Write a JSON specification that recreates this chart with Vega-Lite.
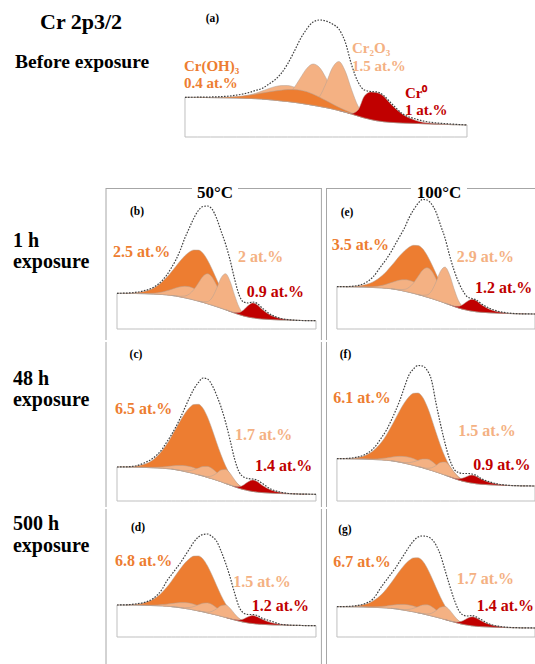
{
  "$schema": "https://vega.github.io/schema/vega-lite/v6.json",
  "padding": 0,
  "background": "#ffffff",
  "spacing": 0,
  "config": {"view": {"stroke": null}, "axis": {"grid": false}},
  "datasets": {
    "one": [{"k": 1}],
    "a": [
      {"E":582,"bg":39.7,"d":39.7,"env":39.7},
      {"E":581.5,"bg":39.6,"d":39.7,"c3":39.6,"env":39.8},
      {"E":581,"bg":39.4,"d":39.6,"c3":39.4,"env":40.0},
      {"E":580.5,"bg":39.2,"d":39.8,"c3":39.4,"env":40.5},
      {"E":580,"bg":38.9,"d":40.4,"c3":39.9,"env":41.8},
      {"E":579.5,"bg":38.6,"d":41.8,"c3":42.0,"env":44.5},
      {"E":579.25,"bg":38.3,"d":42.8,"c3":43.7,"env":46.5},
      {"E":579,"bg":37.9,"d":43.9,"c2":37.9,"c3":45.9,"env":48.5},
      {"E":578.75,"bg":37.4,"d":45.0,"c2":37.6,"c3":48.3,"env":52.5},
      {"E":578.5,"bg":36.8,"d":46.0,"c2":37.6,"c3":50.3,"env":57},
      {"E":578.25,"bg":36.1,"d":46.8,"c2":38.6,"c3":51.4,"env":63.5},
      {"E":578,"bg":35.5,"d":47.4,"c2":42.2,"c3":51.5,"env":73},
      {"E":577.75,"bg":34.7,"d":47.4,"c2":49.1,"c3":50.0,"env":85},
      {"E":577.5,"bg":33.8,"d":46.8,"c1":33.8,"c2":59.0,"c3":47.3,"env":98},
      {"E":577.25,"bg":32.8,"d":45.3,"c1":33.4,"c2":68.6,"c3":43.7,"env":108},
      {"E":577,"bg":31.7,"d":42.8,"c1":34.6,"c2":73.0,"c3":39.7,"env":115},
      {"E":576.75,"bg":30.6,"d":39.8,"c1":40.5,"c2":69.4,"c3":36.0,"env":117},
      {"E":576.5,"bg":29.4,"d":36.4,"c1":53.6,"c2":59.1,"c3":32.8,"env":116},
      {"E":576.25,"bg":28.1,"d":33.1,"c1":69.2,"c2":46.6,"c3":30.0,"env":113},
      {"E":576,"bg":26.5,"d":29.7,"c1":75.5,"c2":35.8,"c3":27.5,"r":26.5,"env":108},
      {"E":575.75,"bg":24.8,"d":26.8,"c1":65.9,"c2":28.7,"c3":25.3,"r":24.8,"env":95},
      {"E":575.5,"bg":23.0,"d":24.1,"c1":47.2,"c2":24.3,"c3":23.2,"r":23.5,"env":72},
      {"E":575.25,"bg":21.0,"d":21.6,"c1":30.9,"c2":21.3,"c3":21.1,"r":27.0,"env":55},
      {"E":575,"bg":19.1,"d":19.4,"c1":22.0,"c2":19.1,"c3":19.1,"r":41.1,"env":47},
      {"E":574.75,"bg":17.5,"d":17.6,"c1":18.1,"r":45.0,"env":45.5},
      {"E":574.5,"bg":16.2,"d":16.2,"c1":16.2,"r":44.2,"env":45},
      {"E":574.25,"bg":15.3,"d":15.3,"r":40.8,"env":41.5},
      {"E":574,"bg":14.7,"d":14.7,"r":33.7,"env":35},
      {"E":573.5,"bg":14.0,"d":14.0,"r":22.5,"env":23},
      {"E":573,"bg":13.6,"d":13.6,"r":16.6,"env":18},
      {"E":572.5,"bg":13.1,"d":13.1,"r":13.9,"env":15},
      {"E":572,"bg":12.7,"d":12.7,"r":12.9,"env":13.7},
      {"E":571.5,"bg":12.3,"d":12.3,"r":12.3,"env":12.8},
      {"E":571,"bg":12.0,"d":12.0,"env":12.0}
    ],
    "b": [
      {"E":582,"bg":35.7,"d":35.8,"env":35.7},
      {"E":581.5,"bg":35.6,"d":35.8,"c3":35.6,"env":35.9},
      {"E":581,"bg":35.5,"d":36.2,"c3":35.5,"env":36.6},
      {"E":580.5,"bg":35.3,"d":37.5,"c3":35.5,"env":38.3},
      {"E":580,"bg":34.9,"d":40.7,"c3":35.7,"env":41.5},
      {"E":579.5,"bg":34.5,"d":47.2,"c3":37.0,"env":48.5},
      {"E":579.25,"bg":34.1,"d":51.7,"c3":38.2,"env":54},
      {"E":579,"bg":33.6,"d":57.0,"c2":33.6,"c3":39.6,"env":61},
      {"E":578.75,"bg":33.0,"d":62.6,"c2":33.2,"c3":41.1,"env":69},
      {"E":578.5,"bg":32.1,"d":68.2,"c2":32.7,"c3":42.2,"env":79},
      {"E":578.25,"bg":31.2,"d":73.2,"c2":33.0,"c3":42.7,"env":91},
      {"E":578,"bg":30.2,"d":77.0,"c2":35.0,"c3":42.2,"env":101},
      {"E":577.75,"bg":29.1,"d":79.0,"c2":39.5,"c3":40.6,"env":111},
      {"E":577.5,"bg":27.9,"d":78.9,"c1":27.9,"c2":46.1,"c3":38.0,"env":118.5},
      {"E":577.25,"bg":26.7,"d":75.8,"c1":27.1,"c2":52.6,"c3":34.8,"env":122.5},
      {"E":577,"bg":25.3,"d":69.0,"c1":27.4,"c2":55.2,"c3":31.3,"env":123},
      {"E":576.75,"bg":23.9,"d":60.0,"c1":31.2,"c2":52.0,"c3":28.0,"env":120},
      {"E":576.5,"bg":22.4,"d":49.9,"c1":40.2,"c2":43.9,"c3":24.9,"env":111},
      {"E":576.25,"bg":20.9,"d":40.3,"c1":51.1,"c2":34.3,"c3":22.3,"env":98},
      {"E":576,"bg":19.3,"d":32.0,"c1":55.3,"c2":26.0,"c3":20.1,"r":19.3,"env":85},
      {"E":575.75,"bg":17.6,"d":25.3,"c1":47.8,"c2":20.4,"c3":18.0,"r":17.7,"env":69},
      {"E":575.5,"bg":16.0,"d":20.3,"c1":33.8,"c2":16.9,"c3":16.2,"r":16.5,"env":50},
      {"E":575.25,"bg":14.5,"d":16.7,"c1":21.8,"c2":14.7,"c3":14.6,"r":16.6,"env":34},
      {"E":575,"bg":13.1,"d":14.2,"c1":15.2,"c2":13.1,"c3":13.1,"r":19.1,"env":27},
      {"E":574.75,"bg":12.0,"d":12.5,"c1":12.4,"r":23.4,"env":26},
      {"E":574.5,"bg":11.2,"d":11.4,"c1":11.2,"r":26.1,"env":27},
      {"E":574.25,"bg":10.5,"d":10.5,"r":24.2,"env":25.5},
      {"E":574,"bg":10.1,"d":10.1,"r":19.9,"env":21.5},
      {"E":573.5,"bg":9.5,"d":9.5,"r":13.7,"env":14.5},
      {"E":573,"bg":9.1,"d":9.1,"r":10.7,"env":10.8},
      {"E":572.5,"bg":8.9,"d":8.9,"r":9.2,"env":9.3},
      {"E":572,"bg":8.6,"d":8.6,"r":8.6,"env":8.6},
      {"E":571.5,"bg":8.4,"d":8.4,"r":8.4,"env":8.4},
      {"E":571,"bg":8.3,"d":8.3,"env":8.3}
    ],
    "e": [
      {"E":582,"bg":42.3,"d":42.3,"env":42.3},
      {"E":581.5,"bg":42.2,"d":42.4,"c3":42.2,"env":42.4},
      {"E":581,"bg":42.1,"d":42.8,"c3":42.1,"env":43},
      {"E":580.5,"bg":41.9,"d":44.1,"c3":42.1,"env":45.5},
      {"E":580,"bg":41.5,"d":47.1,"c3":42.3,"env":52},
      {"E":579.5,"bg":41.1,"d":53.3,"c3":43.6,"env":64},
      {"E":579.25,"bg":40.7,"d":57.6,"c3":44.8,"env":70},
      {"E":579,"bg":40.3,"d":62.7,"c2":40.3,"c3":46.3,"env":77},
      {"E":578.75,"bg":39.6,"d":68.1,"c2":39.8,"c3":47.7,"env":85},
      {"E":578.5,"bg":38.8,"d":73.4,"c2":39.4,"c3":48.9,"env":93},
      {"E":578.25,"bg":37.8,"d":78.1,"c2":39.6,"c3":49.3,"env":101},
      {"E":578,"bg":36.8,"d":81.7,"c2":41.6,"c3":48.8,"env":111},
      {"E":577.75,"bg":35.7,"d":83.7,"c2":45.9,"c3":47.2,"env":119},
      {"E":577.5,"bg":34.5,"d":83.5,"c1":34.5,"c2":52.4,"c3":44.6,"env":125.5},
      {"E":577.25,"bg":33.3,"d":80.4,"c1":33.7,"c2":58.7,"c3":41.4,"env":129.5},
      {"E":577,"bg":31.9,"d":73.9,"c1":34.0,"c2":61.3,"c3":37.9,"env":129},
      {"E":576.75,"bg":30.6,"d":65.2,"c1":37.9,"c2":58.2,"c3":34.7,"env":125},
      {"E":576.5,"bg":29.1,"d":55.5,"c1":46.9,"c2":50.2,"c3":31.6,"env":117},
      {"E":576.25,"bg":27.6,"d":46.3,"c1":57.8,"c2":40.8,"c3":29.0,"env":104},
      {"E":576,"bg":25.9,"d":38.1,"c1":61.9,"c2":32.5,"c3":26.7,"r":25.9,"env":91},
      {"E":575.75,"bg":24.3,"d":31.7,"c1":54.5,"c2":27.0,"c3":24.7,"r":24.4,"env":74},
      {"E":575.5,"bg":22.6,"d":26.8,"c1":40.4,"c2":23.5,"c3":22.8,"r":23.0,"env":59},
      {"E":575.25,"bg":21.1,"d":23.3,"c1":28.4,"c2":21.3,"c3":21.2,"r":22.8,"env":47},
      {"E":575,"bg":19.8,"d":20.8,"c1":21.9,"c2":19.8,"c3":19.8,"r":24.6,"env":38},
      {"E":574.75,"bg":18.7,"d":19.1,"c1":19.1,"r":27.8,"env":32},
      {"E":574.5,"bg":17.9,"d":18.1,"c1":17.9,"r":29.8,"env":30.5},
      {"E":574.25,"bg":17.2,"d":17.2,"r":28.2,"env":29},
      {"E":574,"bg":16.8,"d":16.8,"r":24.6,"env":25.5},
      {"E":573.5,"bg":16.2,"d":16.2,"r":19.6,"env":20.5},
      {"E":573,"bg":15.8,"d":15.8,"r":17.1,"env":17.5},
      {"E":572.5,"bg":15.5,"d":15.5,"r":15.8,"env":16},
      {"E":572,"bg":15.3,"d":15.3,"r":15.3,"env":15.3},
      {"E":571.5,"bg":15.1,"d":15.1,"r":15.1,"env":15.1},
      {"E":571,"bg":15.0,"d":15.0,"env":15.0}
    ],
    "c": [
      {"E":582,"bg":34.0,"d":34.1,"env":34},
      {"E":581.5,"bg":33.9,"d":34.2,"c3":33.9,"env":34.2},
      {"E":581,"bg":33.8,"d":34.8,"c3":33.8,"env":35},
      {"E":580.5,"bg":33.6,"d":36.7,"c3":33.7,"env":38},
      {"E":580,"bg":33.2,"d":41.2,"c3":33.6,"env":43},
      {"E":579.5,"bg":32.8,"d":50.4,"c3":34.1,"env":52},
      {"E":579.25,"bg":32.4,"d":56.7,"c3":34.4,"env":59},
      {"E":579,"bg":32.0,"d":64.3,"c2":32.0,"c3":35.0,"env":66},
      {"E":578.75,"bg":31.3,"d":72.3,"c2":31.4,"c3":35.4,"env":74},
      {"E":578.5,"bg":30.5,"d":80.3,"c2":30.7,"c3":35.6,"env":83},
      {"E":578.25,"bg":29.5,"d":87.5,"c2":30.2,"c3":35.3,"env":93},
      {"E":578,"bg":28.5,"d":93.2,"c2":30.3,"c3":34.5,"env":103},
      {"E":577.75,"bg":27.5,"d":96.5,"c2":31.3,"c3":33.3,"env":112},
      {"E":577.5,"bg":26.2,"d":96.7,"c1":26.2,"c2":32.9,"c3":31.3,"env":118.5},
      {"E":577.25,"bg":25.0,"d":92.8,"c1":25.2,"c2":34.5,"c3":29.1,"env":123},
      {"E":577,"bg":23.6,"d":84.0,"c1":24.4,"c2":34.6,"c3":26.6,"env":122},
      {"E":576.75,"bg":22.3,"d":72.1,"c1":25.1,"c2":32.6,"c3":24.3,"env":116},
      {"E":576.5,"bg":20.8,"d":58.8,"c1":27.7,"c2":28.7,"c3":22.1,"env":106},
      {"E":576.25,"bg":19.3,"d":46.2,"c1":31.0,"c2":24.2,"c3":20.0,"env":94},
      {"E":576,"bg":17.6,"d":35.2,"c1":31.6,"c2":20.1,"c3":18.0,"r":17.6,"env":79},
      {"E":575.75,"bg":16.0,"d":26.7,"c1":27.7,"c2":17.0,"c3":16.2,"r":16.1,"env":61},
      {"E":575.5,"bg":14.3,"d":20.3,"c1":21.2,"c2":14.6,"c3":14.4,"r":14.7,"env":42},
      {"E":575.25,"bg":12.8,"d":15.9,"c1":15.6,"c2":12.9,"c3":12.8,"r":14.4,"env":29},
      {"E":575,"bg":11.5,"d":13.0,"c1":12.3,"c2":11.5,"c3":11.5,"r":16.1,"env":24},
      {"E":574.75,"bg":10.4,"d":11.0,"c1":10.6,"r":19.2,"env":22.5},
      {"E":574.5,"bg":9.6,"d":9.9,"c1":9.6,"r":21.0,"env":22},
      {"E":574.25,"bg":8.9,"d":8.9,"r":19.4,"env":21},
      {"E":574,"bg":8.5,"d":8.5,"r":16.0,"env":18},
      {"E":573.5,"bg":7.9,"d":7.9,"r":11.1,"env":12},
      {"E":573,"bg":7.5,"d":7.5,"r":8.7,"env":9},
      {"E":572.5,"bg":7.3,"d":7.3,"r":7.5,"env":7.5},
      {"E":572,"bg":7.0,"d":7.0,"r":7.0,"env":7.0},
      {"E":571.5,"bg":6.8,"d":6.8,"r":6.8,"env":6.8},
      {"E":571,"bg":6.7,"d":6.7,"env":6.7}
    ],
    "f": [
      {"E":582,"bg":42.3,"d":42.4,"env":42.3},
      {"E":581.5,"bg":42.2,"d":42.5,"c3":42.2,"env":42.5},
      {"E":581,"bg":42.1,"d":43.1,"c3":42.1,"env":43.5},
      {"E":580.5,"bg":41.9,"d":45.1,"c3":42.0,"env":46},
      {"E":580,"bg":41.5,"d":49.9,"c3":41.9,"env":52},
      {"E":579.5,"bg":41.1,"d":59.4,"c3":42.6,"env":64},
      {"E":579.25,"bg":40.7,"d":66.1,"c3":43.1,"env":71},
      {"E":579,"bg":40.3,"d":74.0,"c2":40.3,"c3":43.8,"env":80},
      {"E":578.75,"bg":39.6,"d":82.3,"c2":39.7,"c3":44.4,"env":90},
      {"E":578.5,"bg":38.8,"d":90.8,"c2":39.0,"c3":44.7,"env":101},
      {"E":578.25,"bg":37.8,"d":98.3,"c2":38.4,"c3":44.5,"env":114},
      {"E":578,"bg":36.8,"d":104.2,"c2":38.4,"c3":43.8,"env":126},
      {"E":577.75,"bg":35.7,"d":107.7,"c2":39.2,"c3":42.4,"env":132},
      {"E":577.5,"bg":34.5,"d":108.0,"c1":34.5,"c2":40.6,"c3":40.4,"env":135.5},
      {"E":577.25,"bg":33.3,"d":104.0,"c1":33.5,"c2":41.9,"c3":38.1,"env":135},
      {"E":577,"bg":31.9,"d":94.9,"c1":32.7,"c2":41.9,"c3":35.4,"env":131},
      {"E":576.75,"bg":30.6,"d":82.6,"c1":33.2,"c2":40.0,"c3":33.0,"env":121},
      {"E":576.5,"bg":29.1,"d":68.7,"c1":35.5,"c2":36.3,"c3":30.6,"env":98},
      {"E":576.25,"bg":27.6,"d":55.6,"c1":38.5,"c2":32.1,"c3":28.4,"env":77},
      {"E":576,"bg":25.9,"d":44.2,"c1":38.9,"c2":28.1,"c3":26.3,"r":25.9,"env":58},
      {"E":575.75,"bg":24.3,"d":35.4,"c1":35.2,"c2":25.2,"c3":24.5,"r":24.4,"env":42},
      {"E":575.5,"bg":22.6,"d":28.9,"c1":29.0,"c2":22.9,"c3":22.7,"r":22.9,"env":32},
      {"E":575.25,"bg":21.1,"d":24.3,"c1":23.7,"c2":21.2,"c3":21.1,"r":22.2,"env":28.5},
      {"E":575,"bg":19.8,"d":21.3,"c1":20.6,"c2":19.8,"c3":19.8,"r":23.0,"env":27.5},
      {"E":574.75,"bg":18.7,"d":19.4,"c1":18.9,"r":24.8,"env":27.5},
      {"E":574.5,"bg":17.9,"d":18.2,"c1":17.9,"r":25.9,"env":27},
      {"E":574.25,"bg":17.2,"d":17.2,"r":24.5,"env":25.5},
      {"E":574,"bg":16.8,"d":16.8,"r":22.0,"env":22.5},
      {"E":573.5,"bg":16.2,"d":16.2,"r":18.5,"env":19},
      {"E":573,"bg":15.8,"d":15.8,"r":16.6,"env":16.8},
      {"E":572.5,"bg":15.5,"d":15.5,"r":15.7,"env":15.7},
      {"E":572,"bg":15.3,"d":15.3,"r":15.3,"env":15.3},
      {"E":571.5,"bg":15.1,"d":15.1,"r":15.1,"env":15.1},
      {"E":571,"bg":15.0,"d":15.0,"env":15.0}
    ],
    "d": [
      {"E":582,"bg":32.0,"d":32.1,"env":32},
      {"E":581.5,"bg":31.9,"d":32.1,"c3":31.9,"env":32.2},
      {"E":581,"bg":31.9,"d":32.7,"c3":31.9,"env":33},
      {"E":580.5,"bg":31.7,"d":34.1,"c3":31.8,"env":34.5},
      {"E":580,"bg":31.4,"d":37.7,"c3":31.8,"env":38.5},
      {"E":579.5,"bg":31.1,"d":44.8,"c3":32.4,"env":48},
      {"E":579.25,"bg":30.8,"d":49.8,"c3":32.8,"env":56},
      {"E":579,"bg":30.4,"d":55.6,"c2":30.4,"c3":33.4,"env":62},
      {"E":578.75,"bg":29.9,"d":61.9,"c2":30.0,"c3":34.0,"env":68},
      {"E":578.5,"bg":29.3,"d":68.2,"c2":29.5,"c3":34.4,"env":74},
      {"E":578.25,"bg":28.6,"d":73.9,"c2":29.2,"c3":34.4,"env":81},
      {"E":578,"bg":27.9,"d":78.3,"c2":29.5,"c3":33.9,"env":88},
      {"E":577.75,"bg":27.0,"d":80.9,"c2":30.5,"c3":32.8,"env":95},
      {"E":577.5,"bg":26.1,"d":81.1,"c1":26.1,"c2":32.2,"c3":31.2,"env":100},
      {"E":577.25,"bg":25.2,"d":78.1,"c1":25.4,"c2":33.8,"c3":29.3,"env":102.5},
      {"E":577,"bg":24.1,"d":71.2,"c1":24.8,"c2":34.1,"c3":27.1,"env":103},
      {"E":576.75,"bg":23.1,"d":62.0,"c1":25.6,"c2":32.5,"c3":25.1,"env":100.5},
      {"E":576.5,"bg":22.0,"d":51.7,"c1":28.2,"c2":29.2,"c3":23.3,"env":96},
      {"E":576.25,"bg":20.8,"d":41.8,"c1":31.3,"c2":25.3,"c3":21.5,"env":86},
      {"E":576,"bg":19.6,"d":33.3,"c1":32.1,"c2":21.8,"c3":20.0,"r":19.6,"env":74},
      {"E":575.75,"bg":18.3,"d":26.6,"c1":28.8,"c2":19.2,"c3":18.5,"r":18.4,"env":60},
      {"E":575.5,"bg":17.1,"d":21.8,"c1":23.3,"c2":17.4,"c3":17.2,"r":17.4,"env":44},
      {"E":575.25,"bg":16.0,"d":18.4,"c1":18.5,"c2":16.1,"c3":16.0,"r":17.1,"env":30},
      {"E":575,"bg":14.9,"d":16.1,"c1":15.6,"c2":14.9,"c3":14.9,"r":18.1,"env":24},
      {"E":574.75,"bg":14.1,"d":14.6,"c1":14.3,"r":20.2,"env":22.5},
      {"E":574.5,"bg":13.5,"d":13.7,"c1":13.5,"r":21.5,"env":22.5},
      {"E":574.25,"bg":13.0,"d":13.0,"r":20.3,"env":21.5},
      {"E":574,"bg":12.7,"d":12.7,"r":17.9,"env":19},
      {"E":573.5,"bg":12.2,"d":12.2,"r":14.5,"env":16},
      {"E":573,"bg":11.9,"d":11.9,"r":12.7,"env":13},
      {"E":572.5,"bg":11.7,"d":11.7,"r":11.9,"env":11.9},
      {"E":572,"bg":11.6,"d":11.6,"r":11.6,"env":11.6},
      {"E":571.5,"bg":11.4,"d":11.4,"r":11.4,"env":11.4},
      {"E":571,"bg":11.3,"d":11.3,"env":11.3}
    ],
    "g": [
      {"E":582,"bg":30.3,"d":30.4,"env":30.3},
      {"E":581.5,"bg":30.2,"d":30.4,"c3":30.2,"env":30.5},
      {"E":581,"bg":30.2,"d":31.0,"c3":30.2,"env":31.2},
      {"E":580.5,"bg":30.0,"d":32.4,"c3":30.1,"env":33},
      {"E":580,"bg":29.7,"d":36.0,"c3":30.1,"env":38},
      {"E":579.5,"bg":29.3,"d":43.0,"c3":30.6,"env":51},
      {"E":579.25,"bg":29.0,"d":48.0,"c3":31.0,"env":57},
      {"E":579,"bg":28.7,"d":53.9,"c2":28.7,"c3":31.7,"env":63},
      {"E":578.75,"bg":28.2,"d":60.2,"c2":28.3,"c3":32.3,"env":69},
      {"E":578.5,"bg":27.5,"d":66.4,"c2":27.7,"c3":32.6,"env":76},
      {"E":578.25,"bg":26.8,"d":72.1,"c2":27.4,"c3":32.6,"env":83},
      {"E":578,"bg":26.0,"d":76.4,"c2":27.6,"c3":32.0,"env":90},
      {"E":577.75,"bg":25.2,"d":79.1,"c2":28.7,"c3":31.0,"env":96},
      {"E":577.5,"bg":24.2,"d":79.2,"c1":24.2,"c2":30.3,"c3":29.3,"env":100},
      {"E":577.25,"bg":23.3,"d":76.2,"c1":23.5,"c2":31.9,"c3":27.4,"env":101},
      {"E":577,"bg":22.2,"d":69.3,"c1":23.0,"c2":32.2,"c3":25.2,"env":100.5},
      {"E":576.75,"bg":21.1,"d":60.0,"c1":23.7,"c2":30.5,"c3":23.1,"env":98},
      {"E":576.5,"bg":20.0,"d":49.7,"c1":26.4,"c2":27.2,"c3":21.3,"env":92},
      {"E":576.25,"bg":18.8,"d":39.8,"c1":29.7,"c2":23.3,"c3":19.5,"env":82},
      {"E":576,"bg":17.5,"d":31.2,"c1":30.5,"c2":19.7,"c3":17.9,"r":17.5,"env":67},
      {"E":575.75,"bg":16.2,"d":24.5,"c1":27.1,"c2":17.1,"c3":16.4,"r":16.3,"env":52},
      {"E":575.5,"bg":15.0,"d":19.7,"c1":21.4,"c2":15.3,"c3":15.1,"r":15.3,"env":38},
      {"E":575.25,"bg":13.8,"d":16.2,"c1":16.4,"c2":13.9,"c3":13.8,"r":15.1,"env":27},
      {"E":575,"bg":12.7,"d":13.9,"c1":13.5,"c2":12.7,"c3":12.7,"r":16.3,"env":22},
      {"E":574.75,"bg":11.9,"d":12.4,"c1":12.1,"r":18.8,"env":21},
      {"E":574.5,"bg":11.2,"d":11.4,"c1":11.2,"r":20.2,"env":21.5},
      {"E":574.25,"bg":10.7,"d":10.7,"r":18.9,"env":20},
      {"E":574,"bg":10.4,"d":10.4,"r":16.3,"env":17.5},
      {"E":573.5,"bg":10.0,"d":10.0,"r":12.5,"env":12.8},
      {"E":573,"bg":9.6,"d":9.6,"r":10.5,"env":10.7},
      {"E":572.5,"bg":9.4,"d":9.4,"r":9.6,"env":9.7},
      {"E":572,"bg":9.3,"d":9.3,"r":9.3,"env":9.3},
      {"E":571.5,"bg":9.1,"d":9.1,"r":9.1,"env":9.1},
      {"E":571,"bg":9.0,"d":9.0,"env":9.0}
    ]
  },
  "vconcat": [
    {
      "width": 535, "height": 183,
      "layer": [
        {"data": {"name": "a"}, "mark": {"type": "area", "fill": "#ffffff", "stroke": "#bfbfbf", "strokeWidth": 1, "interpolate": "monotone"}, "encoding": {
          "x": {"field": "E", "type": "quantitative", "scale": {"domain": [568.347, 589.216], "reverse": true, "nice": false, "zero": false},
            "axis": {"values": [582, 579, 576, 573], "domain": false, "tickSize": 3, "tickColor": "#bfbfbf", "labelFont": "Liberation Serif", "labelFontSize": 8, "labelColor": "#7f7f7f", "labelPadding": 4, "offset": -46,
              "title": "Binding energy (eV)", "titleFont": "Liberation Serif", "titleFontSize": 12, "titleFontWeight": "bold", "titleColor": "#000000", "titleX": 326, "titleY": 24, "titleBaseline": "middle", "titleAlign": "center"}},
          "y": {"field": "bg", "type": "quantitative", "scale": {"domain": [-46, 137], "nice": false, "zero": false}, "axis": null}, "y2": {"datum": 0}}},
        {"data": {"name": "a"}, "mark": {"type": "area", "fill": "#F4B183", "stroke": "#b3a094", "strokeWidth": 0.5, "interpolate": "monotone"}, "encoding": {"x": {"field": "E", "type": "quantitative", "scale": {"domain": [568.347, 589.216], "reverse": true, "nice": false, "zero": false}, "axis": null}, "y": {"field": "c3", "type": "quantitative", "scale": {"domain": [-46, 137], "nice": false, "zero": false}, "axis": null}, "y2": {"field": "bg"}}},
        {"data": {"name": "a"}, "mark": {"type": "area", "fill": "#F4B183", "stroke": "#b3a094", "strokeWidth": 0.5, "interpolate": "monotone"}, "encoding": {"x": {"field": "E", "type": "quantitative", "scale": {"domain": [568.347, 589.216], "reverse": true, "nice": false, "zero": false}, "axis": null}, "y": {"field": "c2", "type": "quantitative", "scale": {"domain": [-46, 137], "nice": false, "zero": false}, "axis": null}, "y2": {"field": "bg"}}},
        {"data": {"name": "a"}, "mark": {"type": "area", "fill": "#F4B183", "stroke": "#b3a094", "strokeWidth": 0.5, "interpolate": "monotone"}, "encoding": {"x": {"field": "E", "type": "quantitative", "scale": {"domain": [568.347, 589.216], "reverse": true, "nice": false, "zero": false}, "axis": null}, "y": {"field": "c1", "type": "quantitative", "scale": {"domain": [-46, 137], "nice": false, "zero": false}, "axis": null}, "y2": {"field": "bg"}}},
        {"data": {"name": "a"}, "mark": {"type": "area", "fill": "#ED7D31", "stroke": "#b3a094", "strokeWidth": 0.5, "interpolate": "monotone"}, "encoding": {"x": {"field": "E", "type": "quantitative", "scale": {"domain": [568.347, 589.216], "reverse": true, "nice": false, "zero": false}, "axis": null}, "y": {"field": "d", "type": "quantitative", "scale": {"domain": [-46, 137], "nice": false, "zero": false}, "axis": null}, "y2": {"field": "bg"}}},
        {"data": {"name": "a"}, "mark": {"type": "area", "fill": "#C00000", "stroke": "#b3a094", "strokeWidth": 0.5, "interpolate": "monotone"}, "encoding": {"x": {"field": "E", "type": "quantitative", "scale": {"domain": [568.347, 589.216], "reverse": true, "nice": false, "zero": false}, "axis": null}, "y": {"field": "r", "type": "quantitative", "scale": {"domain": [-46, 137], "nice": false, "zero": false}, "axis": null}, "y2": {"field": "bg"}}},
        {"data": {"name": "a"}, "mark": {"type": "line", "stroke": "#404040", "strokeWidth": 1.2, "strokeDash": [1.6, 1.4], "interpolate": "monotone"}, "encoding": {"x": {"field": "E", "type": "quantitative", "scale": {"domain": [568.347, 589.216], "reverse": true, "nice": false, "zero": false}, "axis": null}, "y": {"field": "env", "type": "quantitative", "scale": {"domain": [-46, 137], "nice": false, "zero": false}, "axis": null}}},
        {"data": {"name": "one"}, "mark": {"type": "text", "font": "Liberation Serif", "fontWeight": "bold", "fontSize": 11.5, "fill": "#000000", "align": "center", "baseline": "middle"}, "encoding": {"text": {"value": "(a)"}, "x": {"datum": 580.927, "type": "quantitative", "scale": {"domain": [568.347, 589.216], "reverse": true, "nice": false, "zero": false}, "axis": null}, "y": {"datum": 118, "type": "quantitative", "scale": {"domain": [-46, 137], "nice": false, "zero": false}, "axis": null}}},
        {"data": {"name": "one"}, "mark": {"type": "text", "font": "Liberation Serif", "fontWeight": "bold", "fontSize": 22, "fill": "#000000", "align": "left", "baseline": "middle"}, "encoding": {"text": {"value": "Cr 2p3/2"}, "x": {"datum": 587.656, "type": "quantitative", "scale": {"domain": [568.347, 589.216], "reverse": true, "nice": false, "zero": false}, "axis": null}, "y": {"datum": 115, "type": "quantitative", "scale": {"domain": [-46, 137], "nice": false, "zero": false}, "axis": null}}},
        {"data": {"name": "one"}, "mark": {"type": "text", "font": "Liberation Serif", "fontWeight": "bold", "fontSize": 19.5, "fill": "#000000", "align": "left", "baseline": "middle"}, "encoding": {"text": {"value": "Before exposure"}, "x": {"datum": 588.63, "type": "quantitative", "scale": {"domain": [568.347, 589.216], "reverse": true, "nice": false, "zero": false}, "axis": null}, "y": {"datum": 75, "type": "quantitative", "scale": {"domain": [-46, 137], "nice": false, "zero": false}, "axis": null}}},
        {"data": {"name": "one"}, "mark": {"type": "text", "font": "Liberation Serif", "fontWeight": "bold", "fontSize": 15, "fill": "#ED7D31", "align": "left", "baseline": "middle"}, "encoding": {"text": {"value": "Cr(OH)₃"}, "x": {"datum": 582.04, "type": "quantitative", "scale": {"domain": [568.347, 589.216], "reverse": true, "nice": false, "zero": false}, "axis": null}, "y": {"datum": 71.5, "type": "quantitative", "scale": {"domain": [-46, 137], "nice": false, "zero": false}, "axis": null}}},
        {"data": {"name": "one"}, "mark": {"type": "text", "font": "Liberation Serif", "fontWeight": "bold", "fontSize": 15, "fill": "#ED7D31", "align": "left", "baseline": "middle"}, "encoding": {"text": {"value": "0.4 at.%"}, "x": {"datum": 582.04, "type": "quantitative", "scale": {"domain": [568.347, 589.216], "reverse": true, "nice": false, "zero": false}, "axis": null}, "y": {"datum": 54.5, "type": "quantitative", "scale": {"domain": [-46, 137], "nice": false, "zero": false}, "axis": null}}},
        {"data": {"name": "one"}, "mark": {"type": "text", "font": "Liberation Serif", "fontWeight": "bold", "fontSize": 15, "fill": "#F4B183", "align": "left", "baseline": "middle"}, "encoding": {"text": {"value": "Cr₂O₃"}, "x": {"datum": 575.485, "type": "quantitative", "scale": {"domain": [568.347, 589.216], "reverse": true, "nice": false, "zero": false}, "axis": null}, "y": {"datum": 89, "type": "quantitative", "scale": {"domain": [-46, 137], "nice": false, "zero": false}, "axis": null}}},
        {"data": {"name": "one"}, "mark": {"type": "text", "font": "Liberation Serif", "fontWeight": "bold", "fontSize": 15, "fill": "#F4B183", "align": "left", "baseline": "middle"}, "encoding": {"text": {"value": "1.5 at.%"}, "x": {"datum": 575.485, "type": "quantitative", "scale": {"domain": [568.347, 589.216], "reverse": true, "nice": false, "zero": false}, "axis": null}, "y": {"datum": 71.5, "type": "quantitative", "scale": {"domain": [-46, 137], "nice": false, "zero": false}, "axis": null}}},
        {"data": {"name": "one"}, "mark": {"type": "text", "font": "Liberation Serif", "fontWeight": "bold", "fontSize": 15, "fill": "#C00000", "align": "left", "baseline": "middle"}, "encoding": {"text": {"value": "Cr⁰"}, "x": {"datum": 573.418, "type": "quantitative", "scale": {"domain": [568.347, 589.216], "reverse": true, "nice": false, "zero": false}, "axis": null}, "y": {"datum": 44.5, "type": "quantitative", "scale": {"domain": [-46, 137], "nice": false, "zero": false}, "axis": null}}},
        {"data": {"name": "one"}, "mark": {"type": "text", "font": "Liberation Serif", "fontWeight": "bold", "fontSize": 15, "fill": "#C00000", "align": "left", "baseline": "middle"}, "encoding": {"text": {"value": "1 at.%"}, "x": {"datum": 573.418, "type": "quantitative", "scale": {"domain": [568.347, 589.216], "reverse": true, "nice": false, "zero": false}, "axis": null}, "y": {"datum": 27, "type": "quantitative", "scale": {"domain": [-46, 137], "nice": false, "zero": false}, "axis": null}}}
      ]
    },
    {
      "hconcat": [
        {
          "width": 322, "height": 152,
          "layer": [
            {"data": {"name": "b"}, "mark": {"type": "area", "fill": "#ffffff", "stroke": "#bfbfbf", "strokeWidth": 1, "interpolate": "monotone"}, "encoding": {
              "x": {"field": "E", "type": "quantitative", "scale": {"domain": [570.668, 588.468], "reverse": true, "nice": false, "zero": false},
                "axis": {"values": [582, 579, 576, 573], "domain": false, "tickSize": 3, "tickColor": "#bfbfbf", "labels": false, "offset": -11, "title": null}},
              "y": {"field": "bg", "type": "quantitative", "scale": {"domain": [-11, 141], "nice": false, "zero": false}, "axis": null}, "y2": {"datum": 0}}},
            {"data": {"name": "b"}, "mark": {"type": "area", "fill": "#ED7D31", "stroke": "#b3a094", "strokeWidth": 0.5, "interpolate": "monotone"}, "encoding": {"x": {"field": "E", "type": "quantitative", "scale": {"domain": [570.668, 588.468], "reverse": true, "nice": false, "zero": false}, "axis": null}, "y": {"field": "d", "type": "quantitative", "scale": {"domain": [-11, 141], "nice": false, "zero": false}, "axis": null}, "y2": {"field": "bg"}}},
            {"data": {"name": "b"}, "mark": {"type": "area", "fill": "#F4B183", "stroke": "#b3a094", "strokeWidth": 0.5, "interpolate": "monotone"}, "encoding": {"x": {"field": "E", "type": "quantitative", "scale": {"domain": [570.668, 588.468], "reverse": true, "nice": false, "zero": false}, "axis": null}, "y": {"field": "c3", "type": "quantitative", "scale": {"domain": [-11, 141], "nice": false, "zero": false}, "axis": null}, "y2": {"field": "bg"}}},
            {"data": {"name": "b"}, "mark": {"type": "area", "fill": "#F4B183", "stroke": "#b3a094", "strokeWidth": 0.5, "interpolate": "monotone"}, "encoding": {"x": {"field": "E", "type": "quantitative", "scale": {"domain": [570.668, 588.468], "reverse": true, "nice": false, "zero": false}, "axis": null}, "y": {"field": "c2", "type": "quantitative", "scale": {"domain": [-11, 141], "nice": false, "zero": false}, "axis": null}, "y2": {"field": "bg"}}},
            {"data": {"name": "b"}, "mark": {"type": "area", "fill": "#F4B183", "stroke": "#b3a094", "strokeWidth": 0.5, "interpolate": "monotone"}, "encoding": {"x": {"field": "E", "type": "quantitative", "scale": {"domain": [570.668, 588.468], "reverse": true, "nice": false, "zero": false}, "axis": null}, "y": {"field": "c1", "type": "quantitative", "scale": {"domain": [-11, 141], "nice": false, "zero": false}, "axis": null}, "y2": {"field": "bg"}}},
            {"data": {"name": "b"}, "mark": {"type": "area", "fill": "#C00000", "stroke": "#b3a094", "strokeWidth": 0.5, "interpolate": "monotone"}, "encoding": {"x": {"field": "E", "type": "quantitative", "scale": {"domain": [570.668, 588.468], "reverse": true, "nice": false, "zero": false}, "axis": null}, "y": {"field": "r", "type": "quantitative", "scale": {"domain": [-11, 141], "nice": false, "zero": false}, "axis": null}, "y2": {"field": "bg"}}},
            {"data": {"name": "b"}, "mark": {"type": "line", "stroke": "#404040", "strokeWidth": 1.2, "strokeDash": [1.6, 1.4], "interpolate": "monotone"}, "encoding": {"x": {"field": "E", "type": "quantitative", "scale": {"domain": [570.668, 588.468], "reverse": true, "nice": false, "zero": false}, "axis": null}, "y": {"field": "env", "type": "quantitative", "scale": {"domain": [-11, 141], "nice": false, "zero": false}, "axis": null}}},
            {"data": {"name": "one"}, "mark": {"type": "rule", "stroke": "#a6a6a6", "strokeWidth": 1}, "encoding": {"x": {"datum": 582.608, "type": "quantitative", "scale": {"domain": [570.668, 588.468], "reverse": true, "nice": false, "zero": false}, "axis": null}}},
            {"data": {"name": "one"}, "mark": {"type": "rule", "stroke": "#a6a6a6", "strokeWidth": 1}, "encoding": {"x": {"datum": 570.7, "type": "quantitative", "scale": {"domain": [570.668, 588.468], "reverse": true, "nice": false, "zero": false}, "axis": null}}},
            {"data": {"name": "one"}, "mark": {"type": "rule", "stroke": "#a6a6a6", "strokeWidth": 1}, "encoding": {"x": {"datum": 582.608, "type": "quantitative", "scale": {"domain": [570.668, 588.468], "reverse": true, "nice": false, "zero": false}, "axis": null}, "x2": {"datum": 577.854}, "y": {"datum": 140.5, "type": "quantitative", "scale": {"domain": [-11, 141], "nice": false, "zero": false}, "axis": null}}},
            {"data": {"name": "one"}, "mark": {"type": "rule", "stroke": "#a6a6a6", "strokeWidth": 1}, "encoding": {"x": {"datum": 575.311, "type": "quantitative", "scale": {"domain": [570.668, 588.468], "reverse": true, "nice": false, "zero": false}, "axis": null}, "x2": {"datum": 570.7}, "y": {"datum": 140.5, "type": "quantitative", "scale": {"domain": [-11, 141], "nice": false, "zero": false}, "axis": null}}},
            {"data": {"name": "one"}, "mark": {"type": "text", "font": "Liberation Serif", "fontWeight": "bold", "fontSize": 17, "fill": "#000000", "align": "center", "baseline": "middle"}, "encoding": {"text": {"value": "50°C"}, "x": {"datum": 576.58, "type": "quantitative", "scale": {"domain": [570.668, 588.468], "reverse": true, "nice": false, "zero": false}, "axis": null}, "y": {"datum": 136.5, "type": "quantitative", "scale": {"domain": [-11, 141], "nice": false, "zero": false}, "axis": null}}},
            {"data": {"name": "one"}, "mark": {"type": "text", "font": "Liberation Serif", "fontWeight": "bold", "fontSize": 11.5, "fill": "#000000", "align": "center", "baseline": "middle"}, "encoding": {"text": {"value": "(b)"}, "x": {"datum": 580.895, "type": "quantitative", "scale": {"domain": [570.668, 588.468], "reverse": true, "nice": false, "zero": false}, "axis": null}, "y": {"datum": 117, "type": "quantitative", "scale": {"domain": [-11, 141], "nice": false, "zero": false}, "axis": null}}},
            {"data": {"name": "one"}, "mark": {"type": "text", "font": "Liberation Serif", "fontWeight": "bold", "fontSize": 20, "fill": "#000000", "align": "left", "baseline": "middle"}, "encoding": {"text": {"value": "1 h"}, "x": {"datum": 587.75, "type": "quantitative", "scale": {"domain": [570.668, 588.468], "reverse": true, "nice": false, "zero": false}, "axis": null}, "y": {"datum": 88, "type": "quantitative", "scale": {"domain": [-11, 141], "nice": false, "zero": false}, "axis": null}}},
            {"data": {"name": "one"}, "mark": {"type": "text", "font": "Liberation Serif", "fontWeight": "bold", "fontSize": 20, "fill": "#000000", "align": "left", "baseline": "middle"}, "encoding": {"text": {"value": "exposure"}, "x": {"datum": 587.75, "type": "quantitative", "scale": {"domain": [570.668, 588.468], "reverse": true, "nice": false, "zero": false}, "axis": null}, "y": {"datum": 67, "type": "quantitative", "scale": {"domain": [-11, 141], "nice": false, "zero": false}, "axis": null}}},
            {"data": {"name": "one"}, "mark": {"type": "text", "font": "Liberation Serif", "fontWeight": "bold", "fontSize": 16, "fill": "#ED7D31", "align": "left", "baseline": "middle"}, "encoding": {"text": {"value": "2.5 at.%"}, "x": {"datum": 582.22, "type": "quantitative", "scale": {"domain": [570.668, 588.468], "reverse": true, "nice": false, "zero": false}, "axis": null}, "y": {"datum": 77.5, "type": "quantitative", "scale": {"domain": [-11, 141], "nice": false, "zero": false}, "axis": null}}},
            {"data": {"name": "one"}, "mark": {"type": "text", "font": "Liberation Serif", "fontWeight": "bold", "fontSize": 16, "fill": "#F4B183", "align": "left", "baseline": "middle"}, "encoding": {"text": {"value": "2 at.%"}, "x": {"datum": 575.31, "type": "quantitative", "scale": {"domain": [570.668, 588.468], "reverse": true, "nice": false, "zero": false}, "axis": null}, "y": {"datum": 72.5, "type": "quantitative", "scale": {"domain": [-11, 141], "nice": false, "zero": false}, "axis": null}}},
            {"data": {"name": "one"}, "mark": {"type": "text", "font": "Liberation Serif", "fontWeight": "bold", "fontSize": 16, "fill": "#C00000", "align": "left", "baseline": "middle"}, "encoding": {"text": {"value": "0.9 at.%"}, "x": {"datum": 574.83, "type": "quantitative", "scale": {"domain": [570.668, 588.468], "reverse": true, "nice": false, "zero": false}, "axis": null}, "y": {"datum": 37.5, "type": "quantitative", "scale": {"domain": [-11, 141], "nice": false, "zero": false}, "axis": null}}}
          ]
        },
        {
          "width": 209, "height": 152,
          "layer": [
            {"data": {"name": "e"}, "mark": {"type": "area", "fill": "#ffffff", "stroke": "#bfbfbf", "strokeWidth": 1, "interpolate": "monotone"}, "encoding": {
              "x": {"field": "E", "type": "quantitative", "scale": {"domain": [571, 582.608], "reverse": true, "nice": false, "zero": false},
                "axis": {"values": [582, 579, 576, 573], "domain": false, "tickSize": 3, "tickColor": "#bfbfbf", "labels": false, "offset": -11, "title": null}},
              "y": {"field": "bg", "type": "quantitative", "scale": {"domain": [-11, 141], "nice": false, "zero": false}, "axis": null}, "y2": {"datum": 0}}},
            {"data": {"name": "e"}, "mark": {"type": "area", "fill": "#ED7D31", "stroke": "#b3a094", "strokeWidth": 0.5, "interpolate": "monotone"}, "encoding": {"x": {"field": "E", "type": "quantitative", "scale": {"domain": [571, 582.608], "reverse": true, "nice": false, "zero": false}, "axis": null}, "y": {"field": "d", "type": "quantitative", "scale": {"domain": [-11, 141], "nice": false, "zero": false}, "axis": null}, "y2": {"field": "bg"}}},
            {"data": {"name": "e"}, "mark": {"type": "area", "fill": "#F4B183", "stroke": "#b3a094", "strokeWidth": 0.5, "interpolate": "monotone"}, "encoding": {"x": {"field": "E", "type": "quantitative", "scale": {"domain": [571, 582.608], "reverse": true, "nice": false, "zero": false}, "axis": null}, "y": {"field": "c3", "type": "quantitative", "scale": {"domain": [-11, 141], "nice": false, "zero": false}, "axis": null}, "y2": {"field": "bg"}}},
            {"data": {"name": "e"}, "mark": {"type": "area", "fill": "#F4B183", "stroke": "#b3a094", "strokeWidth": 0.5, "interpolate": "monotone"}, "encoding": {"x": {"field": "E", "type": "quantitative", "scale": {"domain": [571, 582.608], "reverse": true, "nice": false, "zero": false}, "axis": null}, "y": {"field": "c2", "type": "quantitative", "scale": {"domain": [-11, 141], "nice": false, "zero": false}, "axis": null}, "y2": {"field": "bg"}}},
            {"data": {"name": "e"}, "mark": {"type": "area", "fill": "#F4B183", "stroke": "#b3a094", "strokeWidth": 0.5, "interpolate": "monotone"}, "encoding": {"x": {"field": "E", "type": "quantitative", "scale": {"domain": [571, 582.608], "reverse": true, "nice": false, "zero": false}, "axis": null}, "y": {"field": "c1", "type": "quantitative", "scale": {"domain": [-11, 141], "nice": false, "zero": false}, "axis": null}, "y2": {"field": "bg"}}},
            {"data": {"name": "e"}, "mark": {"type": "area", "fill": "#C00000", "stroke": "#b3a094", "strokeWidth": 0.5, "interpolate": "monotone"}, "encoding": {"x": {"field": "E", "type": "quantitative", "scale": {"domain": [571, 582.608], "reverse": true, "nice": false, "zero": false}, "axis": null}, "y": {"field": "r", "type": "quantitative", "scale": {"domain": [-11, 141], "nice": false, "zero": false}, "axis": null}, "y2": {"field": "bg"}}},
            {"data": {"name": "e"}, "mark": {"type": "line", "stroke": "#404040", "strokeWidth": 1.2, "strokeDash": [1.6, 1.4], "interpolate": "monotone"}, "encoding": {"x": {"field": "E", "type": "quantitative", "scale": {"domain": [571, 582.608], "reverse": true, "nice": false, "zero": false}, "axis": null}, "y": {"field": "env", "type": "quantitative", "scale": {"domain": [-11, 141], "nice": false, "zero": false}, "axis": null}}},
            {"data": {"name": "one"}, "mark": {"type": "rule", "stroke": "#a6a6a6", "strokeWidth": 1}, "encoding": {"x": {"datum": 582.58, "type": "quantitative", "scale": {"domain": [571, 582.608], "reverse": true, "nice": false, "zero": false}, "axis": null}}},
            {"data": {"name": "one"}, "mark": {"type": "rule", "stroke": "#a6a6a6", "strokeWidth": 1}, "encoding": {"x": {"datum": 582.58, "type": "quantitative", "scale": {"domain": [571, 582.608], "reverse": true, "nice": false, "zero": false}, "axis": null}, "x2": {"datum": 577.887}, "y": {"datum": 140.5, "type": "quantitative", "scale": {"domain": [-11, 141], "nice": false, "zero": false}, "axis": null}}},
            {"data": {"name": "one"}, "mark": {"type": "rule", "stroke": "#a6a6a6", "strokeWidth": 1}, "encoding": {"x": {"datum": 574.777, "type": "quantitative", "scale": {"domain": [571, 582.608], "reverse": true, "nice": false, "zero": false}, "axis": null}, "x2": {"datum": 571}, "y": {"datum": 140.5, "type": "quantitative", "scale": {"domain": [-11, 141], "nice": false, "zero": false}, "axis": null}}},
            {"data": {"name": "one"}, "mark": {"type": "text", "font": "Liberation Serif", "fontWeight": "bold", "fontSize": 17, "fill": "#000000", "align": "center", "baseline": "middle"}, "encoding": {"text": {"value": "100°C"}, "x": {"datum": 576.33, "type": "quantitative", "scale": {"domain": [571, 582.608], "reverse": true, "nice": false, "zero": false}, "axis": null}, "y": {"datum": 136.5, "type": "quantitative", "scale": {"domain": [-11, 141], "nice": false, "zero": false}, "axis": null}}},
            {"data": {"name": "one"}, "mark": {"type": "text", "font": "Liberation Serif", "fontWeight": "bold", "fontSize": 11.5, "fill": "#000000", "align": "center", "baseline": "middle"}, "encoding": {"text": {"value": "(e)"}, "x": {"datum": 581.44, "type": "quantitative", "scale": {"domain": [571, 582.608], "reverse": true, "nice": false, "zero": false}, "axis": null}, "y": {"datum": 116.5, "type": "quantitative", "scale": {"domain": [-11, 141], "nice": false, "zero": false}, "axis": null}}},
            {"data": {"name": "one"}, "mark": {"type": "text", "font": "Liberation Serif", "fontWeight": "bold", "fontSize": 16, "fill": "#ED7D31", "align": "left", "baseline": "middle"}, "encoding": {"text": {"value": "3.5 at.%"}, "x": {"datum": 582.29, "type": "quantitative", "scale": {"domain": [571, 582.608], "reverse": true, "nice": false, "zero": false}, "axis": null}, "y": {"datum": 84, "type": "quantitative", "scale": {"domain": [-11, 141], "nice": false, "zero": false}, "axis": null}}},
            {"data": {"name": "one"}, "mark": {"type": "text", "font": "Liberation Serif", "fontWeight": "bold", "fontSize": 16, "fill": "#F4B183", "align": "left", "baseline": "middle"}, "encoding": {"text": {"value": "2.9 at.%"}, "x": {"datum": 575.35, "type": "quantitative", "scale": {"domain": [571, 582.608], "reverse": true, "nice": false, "zero": false}, "axis": null}, "y": {"datum": 72.5, "type": "quantitative", "scale": {"domain": [-11, 141], "nice": false, "zero": false}, "axis": null}}},
            {"data": {"name": "one"}, "mark": {"type": "text", "font": "Liberation Serif", "fontWeight": "bold", "fontSize": 16, "fill": "#C00000", "align": "left", "baseline": "middle"}, "encoding": {"text": {"value": "1.2 at.%"}, "x": {"datum": 574.33, "type": "quantitative", "scale": {"domain": [571, 582.608], "reverse": true, "nice": false, "zero": false}, "axis": null}, "y": {"datum": 40.7, "type": "quantitative", "scale": {"domain": [-11, 141], "nice": false, "zero": false}, "axis": null}}}
          ]
        }
      ],
      "spacing": 4
    },
    {
      "hconcat": [
        {
          "width": 322, "height": 165,
          "layer": [
            {"data": {"name": "c"}, "mark": {"type": "area", "fill": "#ffffff", "stroke": "#bfbfbf", "strokeWidth": 1, "interpolate": "monotone"}, "encoding": {
              "x": {"field": "E", "type": "quantitative", "scale": {"domain": [570.668, 588.468], "reverse": true, "nice": false, "zero": false},
                "axis": {"values": [582, 579, 576, 573], "domain": false, "tickSize": 3, "tickColor": "#bfbfbf", "labels": false, "offset": -6, "title": null}},
              "y": {"field": "bg", "type": "quantitative", "scale": {"domain": [-6, 159], "nice": false, "zero": false}, "axis": null}, "y2": {"datum": 0}}},
            {"data": {"name": "c"}, "mark": {"type": "area", "fill": "#ED7D31", "stroke": "#b3a094", "strokeWidth": 0.5, "interpolate": "monotone"}, "encoding": {"x": {"field": "E", "type": "quantitative", "scale": {"domain": [570.668, 588.468], "reverse": true, "nice": false, "zero": false}, "axis": null}, "y": {"field": "d", "type": "quantitative", "scale": {"domain": [-6, 159], "nice": false, "zero": false}, "axis": null}, "y2": {"field": "bg"}}},
            {"data": {"name": "c"}, "mark": {"type": "area", "fill": "#F4B183", "stroke": "#b3a094", "strokeWidth": 0.5, "interpolate": "monotone"}, "encoding": {"x": {"field": "E", "type": "quantitative", "scale": {"domain": [570.668, 588.468], "reverse": true, "nice": false, "zero": false}, "axis": null}, "y": {"field": "c3", "type": "quantitative", "scale": {"domain": [-6, 159], "nice": false, "zero": false}, "axis": null}, "y2": {"field": "bg"}}},
            {"data": {"name": "c"}, "mark": {"type": "area", "fill": "#F4B183", "stroke": "#b3a094", "strokeWidth": 0.5, "interpolate": "monotone"}, "encoding": {"x": {"field": "E", "type": "quantitative", "scale": {"domain": [570.668, 588.468], "reverse": true, "nice": false, "zero": false}, "axis": null}, "y": {"field": "c2", "type": "quantitative", "scale": {"domain": [-6, 159], "nice": false, "zero": false}, "axis": null}, "y2": {"field": "bg"}}},
            {"data": {"name": "c"}, "mark": {"type": "area", "fill": "#F4B183", "stroke": "#b3a094", "strokeWidth": 0.5, "interpolate": "monotone"}, "encoding": {"x": {"field": "E", "type": "quantitative", "scale": {"domain": [570.668, 588.468], "reverse": true, "nice": false, "zero": false}, "axis": null}, "y": {"field": "c1", "type": "quantitative", "scale": {"domain": [-6, 159], "nice": false, "zero": false}, "axis": null}, "y2": {"field": "bg"}}},
            {"data": {"name": "c"}, "mark": {"type": "area", "fill": "#C00000", "stroke": "#b3a094", "strokeWidth": 0.5, "interpolate": "monotone"}, "encoding": {"x": {"field": "E", "type": "quantitative", "scale": {"domain": [570.668, 588.468], "reverse": true, "nice": false, "zero": false}, "axis": null}, "y": {"field": "r", "type": "quantitative", "scale": {"domain": [-6, 159], "nice": false, "zero": false}, "axis": null}, "y2": {"field": "bg"}}},
            {"data": {"name": "c"}, "mark": {"type": "line", "stroke": "#404040", "strokeWidth": 1.2, "strokeDash": [1.6, 1.4], "interpolate": "monotone"}, "encoding": {"x": {"field": "E", "type": "quantitative", "scale": {"domain": [570.668, 588.468], "reverse": true, "nice": false, "zero": false}, "axis": null}, "y": {"field": "env", "type": "quantitative", "scale": {"domain": [-6, 159], "nice": false, "zero": false}, "axis": null}}},
            {"data": {"name": "one"}, "mark": {"type": "rule", "stroke": "#a6a6a6", "strokeWidth": 1}, "encoding": {"x": {"datum": 582.608, "type": "quantitative", "scale": {"domain": [570.668, 588.468], "reverse": true, "nice": false, "zero": false}, "axis": null}}},
            {"data": {"name": "one"}, "mark": {"type": "rule", "stroke": "#a6a6a6", "strokeWidth": 1}, "encoding": {"x": {"datum": 570.7, "type": "quantitative", "scale": {"domain": [570.668, 588.468], "reverse": true, "nice": false, "zero": false}, "axis": null}}},
            {"data": {"name": "one"}, "mark": {"type": "text", "font": "Liberation Serif", "fontWeight": "bold", "fontSize": 11.5, "fill": "#000000", "align": "center", "baseline": "middle"}, "encoding": {"text": {"value": "(c)"}, "x": {"datum": 580.95, "type": "quantitative", "scale": {"domain": [570.668, 588.468], "reverse": true, "nice": false, "zero": false}, "axis": null}, "y": {"datum": 146, "type": "quantitative", "scale": {"domain": [-6, 159], "nice": false, "zero": false}, "axis": null}}},
            {"data": {"name": "one"}, "mark": {"type": "text", "font": "Liberation Serif", "fontWeight": "bold", "fontSize": 20, "fill": "#000000", "align": "left", "baseline": "middle"}, "encoding": {"text": {"value": "48 h"}, "x": {"datum": 587.75, "type": "quantitative", "scale": {"domain": [570.668, 588.468], "reverse": true, "nice": false, "zero": false}, "axis": null}, "y": {"datum": 122, "type": "quantitative", "scale": {"domain": [-6, 159], "nice": false, "zero": false}, "axis": null}}},
            {"data": {"name": "one"}, "mark": {"type": "text", "font": "Liberation Serif", "fontWeight": "bold", "fontSize": 20, "fill": "#000000", "align": "left", "baseline": "middle"}, "encoding": {"text": {"value": "exposure"}, "x": {"datum": 587.75, "type": "quantitative", "scale": {"domain": [570.668, 588.468], "reverse": true, "nice": false, "zero": false}, "axis": null}, "y": {"datum": 101, "type": "quantitative", "scale": {"domain": [-6, 159], "nice": false, "zero": false}, "axis": null}}},
            {"data": {"name": "one"}, "mark": {"type": "text", "font": "Liberation Serif", "fontWeight": "bold", "fontSize": 16, "fill": "#ED7D31", "align": "left", "baseline": "middle"}, "encoding": {"text": {"value": "6.5 at.%"}, "x": {"datum": 582.11, "type": "quantitative", "scale": {"domain": [570.668, 588.468], "reverse": true, "nice": false, "zero": false}, "axis": null}, "y": {"datum": 92.3, "type": "quantitative", "scale": {"domain": [-6, 159], "nice": false, "zero": false}, "axis": null}}},
            {"data": {"name": "one"}, "mark": {"type": "text", "font": "Liberation Serif", "fontWeight": "bold", "fontSize": 16, "fill": "#F4B183", "align": "left", "baseline": "middle"}, "encoding": {"text": {"value": "1.7 at.%"}, "x": {"datum": 575.48, "type": "quantitative", "scale": {"domain": [570.668, 588.468], "reverse": true, "nice": false, "zero": false}, "axis": null}, "y": {"datum": 66.5, "type": "quantitative", "scale": {"domain": [-6, 159], "nice": false, "zero": false}, "axis": null}}},
            {"data": {"name": "one"}, "mark": {"type": "text", "font": "Liberation Serif", "fontWeight": "bold", "fontSize": 16, "fill": "#C00000", "align": "left", "baseline": "middle"}, "encoding": {"text": {"value": "1.4 at.%"}, "x": {"datum": 574.37, "type": "quantitative", "scale": {"domain": [570.668, 588.468], "reverse": true, "nice": false, "zero": false}, "axis": null}, "y": {"datum": 35, "type": "quantitative", "scale": {"domain": [-6, 159], "nice": false, "zero": false}, "axis": null}}}
          ]
        },
        {
          "width": 209, "height": 165,
          "layer": [
            {"data": {"name": "f"}, "mark": {"type": "area", "fill": "#ffffff", "stroke": "#bfbfbf", "strokeWidth": 1, "interpolate": "monotone"}, "encoding": {
              "x": {"field": "E", "type": "quantitative", "scale": {"domain": [571, 582.608], "reverse": true, "nice": false, "zero": false},
                "axis": {"values": [582, 579, 576, 573], "domain": false, "tickSize": 3, "tickColor": "#bfbfbf", "labels": false, "offset": -6, "title": null}},
              "y": {"field": "bg", "type": "quantitative", "scale": {"domain": [-6, 159], "nice": false, "zero": false}, "axis": null}, "y2": {"datum": 0}}},
            {"data": {"name": "f"}, "mark": {"type": "area", "fill": "#ED7D31", "stroke": "#b3a094", "strokeWidth": 0.5, "interpolate": "monotone"}, "encoding": {"x": {"field": "E", "type": "quantitative", "scale": {"domain": [571, 582.608], "reverse": true, "nice": false, "zero": false}, "axis": null}, "y": {"field": "d", "type": "quantitative", "scale": {"domain": [-6, 159], "nice": false, "zero": false}, "axis": null}, "y2": {"field": "bg"}}},
            {"data": {"name": "f"}, "mark": {"type": "area", "fill": "#F4B183", "stroke": "#b3a094", "strokeWidth": 0.5, "interpolate": "monotone"}, "encoding": {"x": {"field": "E", "type": "quantitative", "scale": {"domain": [571, 582.608], "reverse": true, "nice": false, "zero": false}, "axis": null}, "y": {"field": "c3", "type": "quantitative", "scale": {"domain": [-6, 159], "nice": false, "zero": false}, "axis": null}, "y2": {"field": "bg"}}},
            {"data": {"name": "f"}, "mark": {"type": "area", "fill": "#F4B183", "stroke": "#b3a094", "strokeWidth": 0.5, "interpolate": "monotone"}, "encoding": {"x": {"field": "E", "type": "quantitative", "scale": {"domain": [571, 582.608], "reverse": true, "nice": false, "zero": false}, "axis": null}, "y": {"field": "c2", "type": "quantitative", "scale": {"domain": [-6, 159], "nice": false, "zero": false}, "axis": null}, "y2": {"field": "bg"}}},
            {"data": {"name": "f"}, "mark": {"type": "area", "fill": "#F4B183", "stroke": "#b3a094", "strokeWidth": 0.5, "interpolate": "monotone"}, "encoding": {"x": {"field": "E", "type": "quantitative", "scale": {"domain": [571, 582.608], "reverse": true, "nice": false, "zero": false}, "axis": null}, "y": {"field": "c1", "type": "quantitative", "scale": {"domain": [-6, 159], "nice": false, "zero": false}, "axis": null}, "y2": {"field": "bg"}}},
            {"data": {"name": "f"}, "mark": {"type": "area", "fill": "#C00000", "stroke": "#b3a094", "strokeWidth": 0.5, "interpolate": "monotone"}, "encoding": {"x": {"field": "E", "type": "quantitative", "scale": {"domain": [571, 582.608], "reverse": true, "nice": false, "zero": false}, "axis": null}, "y": {"field": "r", "type": "quantitative", "scale": {"domain": [-6, 159], "nice": false, "zero": false}, "axis": null}, "y2": {"field": "bg"}}},
            {"data": {"name": "f"}, "mark": {"type": "line", "stroke": "#404040", "strokeWidth": 1.2, "strokeDash": [1.6, 1.4], "interpolate": "monotone"}, "encoding": {"x": {"field": "E", "type": "quantitative", "scale": {"domain": [571, 582.608], "reverse": true, "nice": false, "zero": false}, "axis": null}, "y": {"field": "env", "type": "quantitative", "scale": {"domain": [-6, 159], "nice": false, "zero": false}, "axis": null}}},
            {"data": {"name": "one"}, "mark": {"type": "rule", "stroke": "#a6a6a6", "strokeWidth": 1}, "encoding": {"x": {"datum": 582.58, "type": "quantitative", "scale": {"domain": [571, 582.608], "reverse": true, "nice": false, "zero": false}, "axis": null}}},
            {"data": {"name": "one"}, "mark": {"type": "text", "font": "Liberation Serif", "fontWeight": "bold", "fontSize": 11.5, "fill": "#000000", "align": "center", "baseline": "middle"}, "encoding": {"text": {"value": "(f)"}, "x": {"datum": 581.525, "type": "quantitative", "scale": {"domain": [571, 582.608], "reverse": true, "nice": false, "zero": false}, "axis": null}, "y": {"datum": 146, "type": "quantitative", "scale": {"domain": [-6, 159], "nice": false, "zero": false}, "axis": null}}},
            {"data": {"name": "one"}, "mark": {"type": "text", "font": "Liberation Serif", "fontWeight": "bold", "fontSize": 16, "fill": "#ED7D31", "align": "left", "baseline": "middle"}, "encoding": {"text": {"value": "6.1 at.%"}, "x": {"datum": 582.2, "type": "quantitative", "scale": {"domain": [571, 582.608], "reverse": true, "nice": false, "zero": false}, "axis": null}, "y": {"datum": 103, "type": "quantitative", "scale": {"domain": [-6, 159], "nice": false, "zero": false}, "axis": null}}},
            {"data": {"name": "one"}, "mark": {"type": "text", "font": "Liberation Serif", "fontWeight": "bold", "fontSize": 16, "fill": "#F4B183", "align": "left", "baseline": "middle"}, "encoding": {"text": {"value": "1.5 at.%"}, "x": {"datum": 575.26, "type": "quantitative", "scale": {"domain": [571, 582.608], "reverse": true, "nice": false, "zero": false}, "axis": null}, "y": {"datum": 70, "type": "quantitative", "scale": {"domain": [-6, 159], "nice": false, "zero": false}, "axis": null}}},
            {"data": {"name": "one"}, "mark": {"type": "text", "font": "Liberation Serif", "fontWeight": "bold", "fontSize": 16, "fill": "#C00000", "align": "left", "baseline": "middle"}, "encoding": {"text": {"value": "0.9 at.%"}, "x": {"datum": 574.43, "type": "quantitative", "scale": {"domain": [571, 582.608], "reverse": true, "nice": false, "zero": false}, "axis": null}, "y": {"datum": 36.5, "type": "quantitative", "scale": {"domain": [-6, 159], "nice": false, "zero": false}, "axis": null}}}
          ]
        }
      ],
      "spacing": 4
    },
    {
      "hconcat": [
        {
          "width": 322, "height": 164,
          "layer": [
            {"data": {"name": "d"}, "mark": {"type": "area", "fill": "#ffffff", "stroke": "#bfbfbf", "strokeWidth": 1, "interpolate": "monotone"}, "encoding": {
              "x": {"field": "E", "type": "quantitative", "scale": {"domain": [570.668, 588.468], "reverse": true, "nice": false, "zero": false},
                "axis": {"values": [582, 579, 576, 573], "domain": false, "tickSize": 3, "tickColor": "#bfbfbf", "labelFont": "Liberation Serif", "labelFontSize": 8, "labelColor": "#7f7f7f", "labelPadding": 4, "offset": -36,
                  "title": "Binding energy (eV)", "titleFont": "Liberation Serif", "titleFontSize": 12, "titleFontWeight": "bold", "titleColor": "#000000", "titleX": 217, "titleY": 25, "titleBaseline": "middle", "titleAlign": "center"}},
              "y": {"field": "bg", "type": "quantitative", "scale": {"domain": [-36, 128], "nice": false, "zero": false}, "axis": null}, "y2": {"datum": 0}}},
            {"data": {"name": "d"}, "mark": {"type": "area", "fill": "#ED7D31", "stroke": "#b3a094", "strokeWidth": 0.5, "interpolate": "monotone"}, "encoding": {"x": {"field": "E", "type": "quantitative", "scale": {"domain": [570.668, 588.468], "reverse": true, "nice": false, "zero": false}, "axis": null}, "y": {"field": "d", "type": "quantitative", "scale": {"domain": [-36, 128], "nice": false, "zero": false}, "axis": null}, "y2": {"field": "bg"}}},
            {"data": {"name": "d"}, "mark": {"type": "area", "fill": "#F4B183", "stroke": "#b3a094", "strokeWidth": 0.5, "interpolate": "monotone"}, "encoding": {"x": {"field": "E", "type": "quantitative", "scale": {"domain": [570.668, 588.468], "reverse": true, "nice": false, "zero": false}, "axis": null}, "y": {"field": "c3", "type": "quantitative", "scale": {"domain": [-36, 128], "nice": false, "zero": false}, "axis": null}, "y2": {"field": "bg"}}},
            {"data": {"name": "d"}, "mark": {"type": "area", "fill": "#F4B183", "stroke": "#b3a094", "strokeWidth": 0.5, "interpolate": "monotone"}, "encoding": {"x": {"field": "E", "type": "quantitative", "scale": {"domain": [570.668, 588.468], "reverse": true, "nice": false, "zero": false}, "axis": null}, "y": {"field": "c2", "type": "quantitative", "scale": {"domain": [-36, 128], "nice": false, "zero": false}, "axis": null}, "y2": {"field": "bg"}}},
            {"data": {"name": "d"}, "mark": {"type": "area", "fill": "#F4B183", "stroke": "#b3a094", "strokeWidth": 0.5, "interpolate": "monotone"}, "encoding": {"x": {"field": "E", "type": "quantitative", "scale": {"domain": [570.668, 588.468], "reverse": true, "nice": false, "zero": false}, "axis": null}, "y": {"field": "c1", "type": "quantitative", "scale": {"domain": [-36, 128], "nice": false, "zero": false}, "axis": null}, "y2": {"field": "bg"}}},
            {"data": {"name": "d"}, "mark": {"type": "area", "fill": "#C00000", "stroke": "#b3a094", "strokeWidth": 0.5, "interpolate": "monotone"}, "encoding": {"x": {"field": "E", "type": "quantitative", "scale": {"domain": [570.668, 588.468], "reverse": true, "nice": false, "zero": false}, "axis": null}, "y": {"field": "r", "type": "quantitative", "scale": {"domain": [-36, 128], "nice": false, "zero": false}, "axis": null}, "y2": {"field": "bg"}}},
            {"data": {"name": "d"}, "mark": {"type": "line", "stroke": "#404040", "strokeWidth": 1.2, "strokeDash": [1.6, 1.4], "interpolate": "monotone"}, "encoding": {"x": {"field": "E", "type": "quantitative", "scale": {"domain": [570.668, 588.468], "reverse": true, "nice": false, "zero": false}, "axis": null}, "y": {"field": "env", "type": "quantitative", "scale": {"domain": [-36, 128], "nice": false, "zero": false}, "axis": null}}},
            {"data": {"name": "one"}, "mark": {"type": "rule", "stroke": "#a6a6a6", "strokeWidth": 1}, "encoding": {"x": {"datum": 582.608, "type": "quantitative", "scale": {"domain": [570.668, 588.468], "reverse": true, "nice": false, "zero": false}, "axis": null}}},
            {"data": {"name": "one"}, "mark": {"type": "rule", "stroke": "#a6a6a6", "strokeWidth": 1}, "encoding": {"x": {"datum": 570.7, "type": "quantitative", "scale": {"domain": [570.668, 588.468], "reverse": true, "nice": false, "zero": false}, "axis": null}}},
            {"data": {"name": "one"}, "mark": {"type": "text", "font": "Liberation Serif", "fontWeight": "bold", "fontSize": 11.5, "fill": "#000000", "align": "center", "baseline": "middle"}, "encoding": {"text": {"value": "(d)"}, "x": {"datum": 580.84, "type": "quantitative", "scale": {"domain": [570.668, 588.468], "reverse": true, "nice": false, "zero": false}, "axis": null}, "y": {"datum": 109, "type": "quantitative", "scale": {"domain": [-36, 128], "nice": false, "zero": false}, "axis": null}}},
            {"data": {"name": "one"}, "mark": {"type": "text", "font": "Liberation Serif", "fontWeight": "bold", "fontSize": 20, "fill": "#000000", "align": "left", "baseline": "middle"}, "encoding": {"text": {"value": "500 h"}, "x": {"datum": 587.75, "type": "quantitative", "scale": {"domain": [570.668, 588.468], "reverse": true, "nice": false, "zero": false}, "axis": null}, "y": {"datum": 113, "type": "quantitative", "scale": {"domain": [-36, 128], "nice": false, "zero": false}, "axis": null}}},
            {"data": {"name": "one"}, "mark": {"type": "text", "font": "Liberation Serif", "fontWeight": "bold", "fontSize": 20, "fill": "#000000", "align": "left", "baseline": "middle"}, "encoding": {"text": {"value": "exposure"}, "x": {"datum": 587.75, "type": "quantitative", "scale": {"domain": [570.668, 588.468], "reverse": true, "nice": false, "zero": false}, "axis": null}, "y": {"datum": 91, "type": "quantitative", "scale": {"domain": [-36, 128], "nice": false, "zero": false}, "axis": null}}},
            {"data": {"name": "one"}, "mark": {"type": "text", "font": "Liberation Serif", "fontWeight": "bold", "fontSize": 16, "fill": "#ED7D31", "align": "left", "baseline": "middle"}, "encoding": {"text": {"value": "6.8 at.%"}, "x": {"datum": 582.11, "type": "quantitative", "scale": {"domain": [570.668, 588.468], "reverse": true, "nice": false, "zero": false}, "axis": null}, "y": {"datum": 76.5, "type": "quantitative", "scale": {"domain": [-36, 128], "nice": false, "zero": false}, "axis": null}}},
            {"data": {"name": "one"}, "mark": {"type": "text", "font": "Liberation Serif", "fontWeight": "bold", "fontSize": 16, "fill": "#F4B183", "align": "left", "baseline": "middle"}, "encoding": {"text": {"value": "1.5 at.%"}, "x": {"datum": 575.57, "type": "quantitative", "scale": {"domain": [570.668, 588.468], "reverse": true, "nice": false, "zero": false}, "axis": null}, "y": {"datum": 54.7, "type": "quantitative", "scale": {"domain": [-36, 128], "nice": false, "zero": false}, "axis": null}}},
            {"data": {"name": "one"}, "mark": {"type": "text", "font": "Liberation Serif", "fontWeight": "bold", "fontSize": 16, "fill": "#C00000", "align": "left", "baseline": "middle"}, "encoding": {"text": {"value": "1.2 at.%"}, "x": {"datum": 574.55, "type": "quantitative", "scale": {"domain": [570.668, 588.468], "reverse": true, "nice": false, "zero": false}, "axis": null}, "y": {"datum": 31.3, "type": "quantitative", "scale": {"domain": [-36, 128], "nice": false, "zero": false}, "axis": null}}}
          ]
        },
        {
          "width": 209, "height": 164,
          "layer": [
            {"data": {"name": "g"}, "mark": {"type": "area", "fill": "#ffffff", "stroke": "#bfbfbf", "strokeWidth": 1, "interpolate": "monotone"}, "encoding": {
              "x": {"field": "E", "type": "quantitative", "scale": {"domain": [571, 582.608], "reverse": true, "nice": false, "zero": false},
                "axis": {"values": [582, 579, 576, 573], "domain": false, "tickSize": 3, "tickColor": "#bfbfbf", "labelFont": "Liberation Serif", "labelFontSize": 8, "labelColor": "#7f7f7f", "labelPadding": 4, "offset": -36,
                  "title": "Binding energy (eV)", "titleFont": "Liberation Serif", "titleFontSize": 12, "titleFontWeight": "bold", "titleColor": "#000000", "titleX": 110, "titleY": 25, "titleBaseline": "middle", "titleAlign": "center"}},
              "y": {"field": "bg", "type": "quantitative", "scale": {"domain": [-36, 128], "nice": false, "zero": false}, "axis": null}, "y2": {"datum": 0}}},
            {"data": {"name": "g"}, "mark": {"type": "area", "fill": "#ED7D31", "stroke": "#b3a094", "strokeWidth": 0.5, "interpolate": "monotone"}, "encoding": {"x": {"field": "E", "type": "quantitative", "scale": {"domain": [571, 582.608], "reverse": true, "nice": false, "zero": false}, "axis": null}, "y": {"field": "d", "type": "quantitative", "scale": {"domain": [-36, 128], "nice": false, "zero": false}, "axis": null}, "y2": {"field": "bg"}}},
            {"data": {"name": "g"}, "mark": {"type": "area", "fill": "#F4B183", "stroke": "#b3a094", "strokeWidth": 0.5, "interpolate": "monotone"}, "encoding": {"x": {"field": "E", "type": "quantitative", "scale": {"domain": [571, 582.608], "reverse": true, "nice": false, "zero": false}, "axis": null}, "y": {"field": "c3", "type": "quantitative", "scale": {"domain": [-36, 128], "nice": false, "zero": false}, "axis": null}, "y2": {"field": "bg"}}},
            {"data": {"name": "g"}, "mark": {"type": "area", "fill": "#F4B183", "stroke": "#b3a094", "strokeWidth": 0.5, "interpolate": "monotone"}, "encoding": {"x": {"field": "E", "type": "quantitative", "scale": {"domain": [571, 582.608], "reverse": true, "nice": false, "zero": false}, "axis": null}, "y": {"field": "c2", "type": "quantitative", "scale": {"domain": [-36, 128], "nice": false, "zero": false}, "axis": null}, "y2": {"field": "bg"}}},
            {"data": {"name": "g"}, "mark": {"type": "area", "fill": "#F4B183", "stroke": "#b3a094", "strokeWidth": 0.5, "interpolate": "monotone"}, "encoding": {"x": {"field": "E", "type": "quantitative", "scale": {"domain": [571, 582.608], "reverse": true, "nice": false, "zero": false}, "axis": null}, "y": {"field": "c1", "type": "quantitative", "scale": {"domain": [-36, 128], "nice": false, "zero": false}, "axis": null}, "y2": {"field": "bg"}}},
            {"data": {"name": "g"}, "mark": {"type": "area", "fill": "#C00000", "stroke": "#b3a094", "strokeWidth": 0.5, "interpolate": "monotone"}, "encoding": {"x": {"field": "E", "type": "quantitative", "scale": {"domain": [571, 582.608], "reverse": true, "nice": false, "zero": false}, "axis": null}, "y": {"field": "r", "type": "quantitative", "scale": {"domain": [-36, 128], "nice": false, "zero": false}, "axis": null}, "y2": {"field": "bg"}}},
            {"data": {"name": "g"}, "mark": {"type": "line", "stroke": "#404040", "strokeWidth": 1.2, "strokeDash": [1.6, 1.4], "interpolate": "monotone"}, "encoding": {"x": {"field": "E", "type": "quantitative", "scale": {"domain": [571, 582.608], "reverse": true, "nice": false, "zero": false}, "axis": null}, "y": {"field": "env", "type": "quantitative", "scale": {"domain": [-36, 128], "nice": false, "zero": false}, "axis": null}}},
            {"data": {"name": "one"}, "mark": {"type": "rule", "stroke": "#a6a6a6", "strokeWidth": 1}, "encoding": {"x": {"datum": 582.58, "type": "quantitative", "scale": {"domain": [571, 582.608], "reverse": true, "nice": false, "zero": false}, "axis": null}}},
            {"data": {"name": "one"}, "mark": {"type": "text", "font": "Liberation Serif", "fontWeight": "bold", "fontSize": 11.5, "fill": "#000000", "align": "center", "baseline": "middle"}, "encoding": {"text": {"value": "(g)"}, "x": {"datum": 581.553, "type": "quantitative", "scale": {"domain": [571, 582.608], "reverse": true, "nice": false, "zero": false}, "axis": null}, "y": {"datum": 107, "type": "quantitative", "scale": {"domain": [-36, 128], "nice": false, "zero": false}, "axis": null}}},
            {"data": {"name": "one"}, "mark": {"type": "text", "font": "Liberation Serif", "fontWeight": "bold", "fontSize": 16, "fill": "#ED7D31", "align": "left", "baseline": "middle"}, "encoding": {"text": {"value": "6.7 at.%"}, "x": {"datum": 582.2, "type": "quantitative", "scale": {"domain": [571, 582.608], "reverse": true, "nice": false, "zero": false}, "axis": null}, "y": {"datum": 74.7, "type": "quantitative", "scale": {"domain": [-36, 128], "nice": false, "zero": false}, "axis": null}}},
            {"data": {"name": "one"}, "mark": {"type": "text", "font": "Liberation Serif", "fontWeight": "bold", "fontSize": 16, "fill": "#F4B183", "align": "left", "baseline": "middle"}, "encoding": {"text": {"value": "1.7 at.%"}, "x": {"datum": 575.35, "type": "quantitative", "scale": {"domain": [571, 582.608], "reverse": true, "nice": false, "zero": false}, "axis": null}, "y": {"datum": 58, "type": "quantitative", "scale": {"domain": [-36, 128], "nice": false, "zero": false}, "axis": null}}},
            {"data": {"name": "one"}, "mark": {"type": "text", "font": "Liberation Serif", "fontWeight": "bold", "fontSize": 16, "fill": "#C00000", "align": "left", "baseline": "middle"}, "encoding": {"text": {"value": "1.4 at.%"}, "x": {"datum": 574.24, "type": "quantitative", "scale": {"domain": [571, 582.608], "reverse": true, "nice": false, "zero": false}, "axis": null}, "y": {"datum": 31.3, "type": "quantitative", "scale": {"domain": [-36, 128], "nice": false, "zero": false}, "axis": null}}}
          ]
        }
      ],
      "spacing": 4
    }
  ]
}
